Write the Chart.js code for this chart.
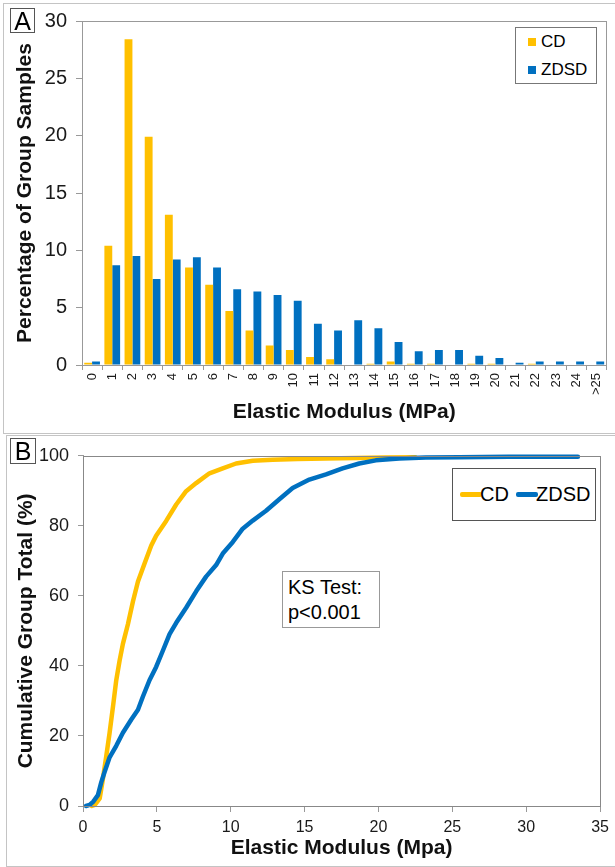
<!DOCTYPE html>
<html>
<head>
<meta charset="utf-8">
<script src="https://cdn.jsdelivr.net/npm/chart.js@4"></script>
<style>
  body { margin: 0; width: 615px; height: 867px; overflow: hidden; background: #fff; font-family: 'Liberation Sans', Arial, sans-serif; position: relative; }
  canvas { position: absolute; left: 0; z-index: 2; }
  .frame { position: absolute; border: 1.5px solid #c4c4c4; border-right: none; z-index: 1; }
  .box { position: absolute; background: #fff; z-index: 3; box-sizing: border-box; }
  .letter { border: 1px solid #555; font-size: 25px; line-height: 24px; text-align: center; }
  .item { position: absolute; white-space: nowrap; }
  .sq { position: absolute; width: 8px; height: 8px; }
  .ln { position: absolute; height: 5px; border-radius: 2px; }
</style>
</head>
<body>
<div class="frame" style="left:3px; top:3px; width:640px; height:429px;"></div>
<div class="frame" style="left:6px; top:435px; width:640px; height:430px;"></div>

<canvas id="histChart" width="615" height="433" style="top:0px;"></canvas>
<canvas id="cumChart" width="615" height="431" style="top:436px;"></canvas>

<div class="box letter" style="left:10px; top:8px; width:25px; height:25px;">A</div>
<div class="box letter" style="left:10px; top:438px; width:26px; height:26px;">B</div>

<!-- legend panel A -->
<div class="box" style="left:515px; top:27px; width:82px; height:57px; border:1px solid #777; font-size:17px;">
  <div class="sq" style="left:12px; top:10px; background:#FFC000;"></div>
  <div class="item" style="left:25px; top:4px;">CD</div>
  <div class="sq" style="left:12px; top:38px; background:#0070C0;"></div>
  <div class="item" style="left:25px; top:32px;">ZDSD</div>
</div>

<!-- legend panel B -->
<div class="box" style="left:452px; top:468px; width:144px; height:53px; border:1px solid #555; font-size:20px;">
  <div class="ln" style="left:7px; top:23px; width:22px; background:#FFC000;"></div>
  <div class="item" style="left:27px; top:14px;">CD</div>
  <div class="ln" style="left:63px; top:23px; width:22px; background:#0070C0;"></div>
  <div class="item" style="left:83px; top:14px;">ZDSD</div>
</div>

<!-- KS test note -->
<div class="box" style="left:282px; top:571px; width:98px; height:57px; border:1px solid #999; font-size:20px; line-height:25px; padding:3px 0 0 5px;">
  KS Test:<br>p&lt;0.001
</div>

<script>
// Histogram (panel A)
const binLabels = ['0','1','2','3','4','5','6','7','8','9','10','11','12','13','14','15','16','17','18','19','20','21','22','23','24','>25'];
const cdPct   = [0.2, 10.4, 28.4, 19.9, 13.1, 8.5, 7.0, 4.7, 3.0, 1.7, 1.3, 0.7, 0.5, 0, 0.1, 0.3, 0.1, 0.1, 0, 0.1, 0.1, 0, 0.1, 0, 0, 0];
const zdsdPct = [0.3, 8.7, 9.5, 7.5, 9.2, 9.4, 8.5, 6.6, 6.4, 6.1, 5.6, 3.6, 3.0, 3.9, 3.2, 2.0, 1.2, 1.3, 1.3, 0.8, 0.6, 0.2, 0.3, 0.3, 0.3, 0.3];

// Cumulative curves (panel B)
const cdX = [0.6, 0.8, 1.13, 1.35, 1.58, 1.8, 2.03, 2.25, 2.48, 2.7, 3.04, 3.38, 3.72, 4.16, 4.62, 4.95, 5.63, 6.31, 6.98, 7.66, 8.56, 9.46, 10.36, 11.49, 12.84, 14.5, 16.4, 18.5, 20.5, 22.5];
const cdY = [0, 0.3, 2.2, 7.8, 14.4, 20.9, 28.4, 35.9, 41.6, 46.3, 51.9, 58.4, 64.1, 69.2, 74.4, 77.2, 81.4, 86.1, 89.9, 92.2, 95.0, 96.4, 97.8, 98.6, 98.9, 99.1, 99.2, 99.4, 99.5, 99.6];
const zdsdX = [0.2, 0.45, 0.68, 1.01, 1.24, 1.46, 1.8, 2.25, 2.7, 3.27, 3.72, 4.05, 4.5, 4.95, 5.41, 5.86, 6.31, 6.98, 7.66, 8.33, 9.01, 9.46, 10.14, 10.81, 11.49, 12.39, 13.29, 14.19, 15.32, 16.45, 17.57, 18.7, 19.82, 21.4, 23.2, 25.45, 28.8, 33.5];
const zdsdY = [0, 0.3, 1.2, 3.1, 6.8, 9.7, 13.9, 17.2, 20.9, 24.7, 27.5, 31.2, 35.9, 39.7, 44.4, 49.1, 52.3, 56.6, 61.3, 65.5, 68.8, 72.1, 75.4, 79.2, 81.5, 84.3, 87.6, 90.8, 93.2, 94.7, 96.4, 97.8, 98.7, 99.2, 99.5, 99.6, 99.7, 99.7];

const FONT = "'Liberation Sans', Arial, sans-serif";
Chart.defaults.font.family = FONT;
Chart.defaults.color = '#1a1a1a';
Chart.defaults.animation = false;

// draws the box around the plot area
function boxPlugin(color) {
    return {
        id: 'plotBox',
        afterDatasetsDraw(chart) {
            let a = chart.chartArea;
            let ctx = chart.ctx;
            ctx.save();
            ctx.strokeStyle = color;
            ctx.lineWidth = 1;
            ctx.strokeRect(Math.round(a.left) + 0.5, Math.round(a.top) + 0.5, Math.round(a.right - a.left), Math.round(a.bottom - a.top));
            ctx.restore();
        }
    };
}

new Chart(document.getElementById('histChart'), {
    type: 'bar',
    data: {
        labels: binLabels,
        datasets: [
            { label: 'CD', data: cdPct, backgroundColor: '#FFC000' },
            { label: 'ZDSD', data: zdsdPct, backgroundColor: '#0070C0' }
        ]
    },
    options: {
        responsive: false,
        categoryPercentage: 0.78,
        barPercentage: 1.0,
        layout: { padding: { top: 15, right: 5, left: 0, bottom: 0 } },
        plugins: { legend: { display: false }, tooltip: { enabled: false } },
        scales: {
            x: {
                grid: { offset: true, drawOnChartArea: false, tickLength: 5, color: '#999' },
                border: { color: '#999' },
                ticks: { minRotation: 90, maxRotation: 90, autoSkip: false, padding: 3, font: { size: 13 } },
                title: { display: true, text: 'Elastic Modulus (MPa)', font: { size: 21, weight: 'bold' }, color: '#111', padding: { bottom: 8 } },
                afterFit(scale) { scale.height = 68; }
            },
            y: {
                min: 0, max: 30,
                ticks: { stepSize: 5, padding: 9, font: { size: 20 } },
                grid: { drawOnChartArea: false, tickLength: 6, color: '#999' },
                border: { color: '#999' },
                title: { display: true, text: 'Percentage of Group Samples', font: { size: 21, weight: 'bold' }, color: '#111', padding: { top: 13 } },
                afterFit(scale) { scale.width = 82; }
            }
        }
    },
    plugins: [boxPlugin('#999')]
});

let cdPoints = cdX.map((x, i) => ({ x: x, y: cdY[i] }));
let zdsdPoints = zdsdX.map((x, i) => ({ x: x, y: zdsdY[i] }));

new Chart(document.getElementById('cumChart'), {
    type: 'line',
    data: {
        datasets: [
            { label: 'CD', data: cdPoints, borderColor: '#FFC000', borderWidth: 4.5, pointRadius: 0, tension: 0, clip: false, order: 1, borderCapStyle: 'round', borderJoinStyle: 'round' },
            { label: 'ZDSD', data: zdsdPoints, borderColor: '#0070C0', borderWidth: 4.5, pointRadius: 0, tension: 0, clip: false, order: 0, borderCapStyle: 'round', borderJoinStyle: 'round' }
        ]
    },
    options: {
        responsive: false,
        layout: { padding: { top: 15, right: 14, left: 0, bottom: 0 } },
        plugins: { legend: { display: false }, tooltip: { enabled: false } },
        scales: {
            x: {
                type: 'linear', min: 0, max: 35,
                ticks: { stepSize: 5, padding: 6, font: { size: 16 } },
                grid: { drawOnChartArea: false, tickLength: 6, color: '#999' },
                border: { color: '#999' },
                title: { display: true, text: 'Elastic Modulus (Mpa)', font: { size: 21, weight: 'bold' }, color: '#111', padding: { bottom: 6 } },
                afterFit(scale) { scale.height = 61; }
            },
            y: {
                min: 0, max: 100,
                ticks: { stepSize: 20, padding: 9, font: { size: 18 } },
                grid: { drawOnChartArea: false, tickLength: 5, color: '#999' },
                border: { color: '#999' },
                title: { display: true, text: 'Cumulative Group Total (%)', font: { size: 21, weight: 'bold' }, color: '#111', padding: { top: 14 } },
                afterFit(scale) { scale.width = 83; }
            }
        }
    },
    plugins: [boxPlugin('#888')]
});
</script>
</body>
</html>
